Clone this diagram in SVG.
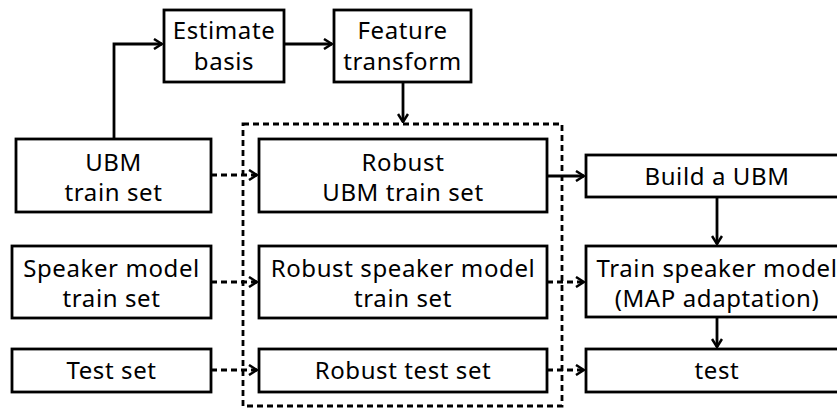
<svg xmlns="http://www.w3.org/2000/svg" width="837" height="408" viewBox="0 0 837 408">
  <style>
    .box { fill: #fff; stroke: #000; stroke-width: 2.8; }
    .lbl { font-family: "Noto Sans", "Open Sans", sans-serif; font-size: 24px; letter-spacing: 0.6px; fill: #000; text-anchor: middle; }
    .solid { fill: none; stroke: #000; stroke-width: 2.8; }
    .dash { fill: none; stroke: #000; stroke-width: 2.8; stroke-dasharray: 6 4; }
    .frame { fill: none; stroke: #000; stroke-width: 2.8; stroke-dasharray: 6 4; }
  </style>
  <defs>
    <marker id="arrow" viewBox="0 0 10 12" refX="9" refY="6" markerWidth="10" markerHeight="12" markerUnits="userSpaceOnUse" orient="auto">
      <path d="M1,1 L9,6 L1,11" fill="none" stroke="#000" stroke-width="2.5"/>
    </marker>
  </defs>

  <!-- dashed enclosure around the robust feature sets -->
  <rect class="frame" x="243" y="124" width="319" height="282"/>

  <g id="estimate-basis">
    <rect class="box" x="164" y="10" width="120" height="72"/>
    <text class="lbl" x="224" y="39">Estimate</text>
    <text class="lbl" x="224" y="70">basis</text>
  </g>
  <g id="feature-transform">
    <rect class="box" x="334" y="10" width="137" height="72"/>
    <text class="lbl" x="402.5" y="39">Feature</text>
    <text class="lbl" x="402.5" y="70">transform</text>
  </g>

  <g id="ubm-train-set">
    <rect class="box" x="16" y="139" width="195" height="73"/>
    <text class="lbl" x="113.5" y="171">UBM</text>
    <text class="lbl" x="113.5" y="201">train set</text>
  </g>
  <g id="speaker-train-set">
    <rect class="box" x="12" y="246" width="199" height="72"/>
    <text class="lbl" x="111.5" y="277">Speaker model</text>
    <text class="lbl" x="111.5" y="307">train set</text>
  </g>
  <g id="test-set">
    <rect class="box" x="12" y="349" width="199" height="43"/>
    <text class="lbl" x="111.5" y="379">Test set</text>
  </g>

  <g id="robust-ubm-train-set">
    <rect class="box" x="259" y="139" width="288" height="73"/>
    <text class="lbl" x="403" y="171">Robust</text>
    <text class="lbl" x="403" y="201">UBM train set</text>
  </g>
  <g id="robust-speaker-train-set">
    <rect class="box" x="259" y="246" width="288" height="72"/>
    <text class="lbl" x="403" y="277">Robust speaker model</text>
    <text class="lbl" x="403" y="307">train set</text>
  </g>
  <g id="robust-test-set">
    <rect class="box" x="259" y="349" width="288" height="43"/>
    <text class="lbl" x="403" y="379">Robust test set</text>
  </g>

  <g id="build-ubm">
    <rect class="box" x="586" y="155" width="262" height="42"/>
    <text class="lbl" x="717" y="185">Build a UBM</text>
  </g>
  <g id="train-speaker-model">
    <rect class="box" x="586" y="246" width="262" height="71"/>
    <text class="lbl" x="717" y="277">Train speaker model</text>
    <text class="lbl" x="717" y="307">(MAP adaptation)</text>
  </g>
  <g id="test">
    <rect class="box" x="586" y="349" width="262" height="43"/>
    <text class="lbl" x="717" y="379">test</text>
  </g>

  <g id="connectors">
    <path class="solid" d="M114,139 V44 H162" marker-end="url(#arrow)"/>
    <path class="solid" d="M284,44 H332" marker-end="url(#arrow)"/>
    <path class="solid" d="M403,82 V122" marker-end="url(#arrow)"/>
    <path class="dash" d="M211,175 H257" marker-end="url(#arrow)"/>
    <path class="dash" d="M211,282 H257" marker-end="url(#arrow)"/>
    <path class="dash" d="M211,370 H257" marker-end="url(#arrow)"/>
    <path class="solid" d="M547,176 H584" marker-end="url(#arrow)"/>
    <path class="dash" d="M547,282 H584" marker-end="url(#arrow)"/>
    <path class="dash" d="M547,370 H584" marker-end="url(#arrow)"/>
    <path class="solid" d="M717,197 V244" marker-end="url(#arrow)"/>
    <path class="solid" d="M717,317 V347" marker-end="url(#arrow)"/>
  </g>
</svg>
